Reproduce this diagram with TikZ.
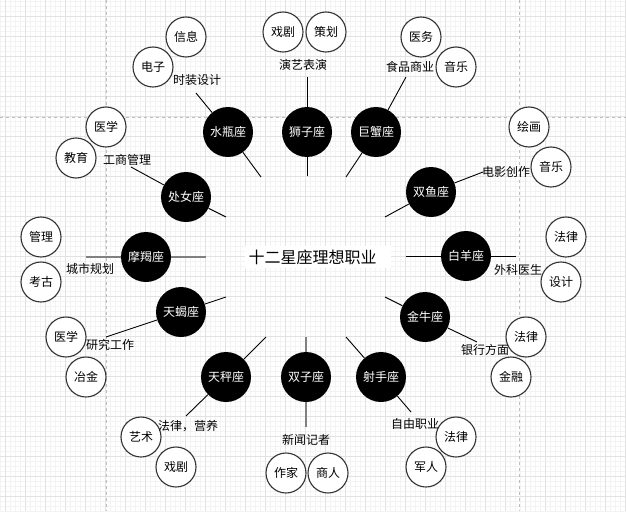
\documentclass[tikz,border=0pt]{standalone}
\usepackage{fontspec}
\setmainfont{Noto Sans CJK SC}
\usetikzlibrary{positioning}

\definecolor{gridmaj}{HTML}{E2E2E2}
\definecolor{gridmin}{HTML}{F3F3F3}
\definecolor{pagesep}{HTML}{BDBDBD}
\definecolor{rim}{HTML}{333333}

\begin{document}
\begin{tikzpicture}[x=1pt,y=-1pt,
  sign/.style={circle,fill=black,minimum size=50pt,inner sep=0pt,text=white,font=\fontsize{12}{14}\selectfont},
  job/.style={circle,draw=rim,fill=white,line width=1.1pt,minimum size=40pt,inner sep=0pt,font=\fontsize{12}{14}\selectfont},
  tag/.style={inner sep=1pt,font=\fontsize{12}{14}\selectfont},
  spoke/.style={black,line width=0.9pt},
  greyspoke/.style={gray,line width=1.8pt}]
  \useasboundingbox (0,0) rectangle (626,511);
  % background grid
  \foreach \k in {0,...,125}
    \draw[gridmin,line width=0.5pt] (5*\k,0) -- (5*\k,511);
  \foreach \k in {0,...,102}
    \draw[gridmin,line width=0.5pt] (0,1.5+5*\k) -- (626,1.5+5*\k);
  \foreach \k in {0,...,31}
    \draw[gridmaj,line width=0.7pt] (5+20*\k,0) -- (5+20*\k,511);
  \foreach \k in {0,...,24}
    \draw[gridmaj,line width=0.7pt] (0,16.5+20*\k) -- (626,16.5+20*\k);
  \draw[pagesep,dash pattern=on 3pt off 3pt] (106,0) -- (106,511);
  \draw[pagesep,dash pattern=on 3pt off 3pt] (519,0) -- (519,511);
  \draw[pagesep,dash pattern=on 3pt off 3pt] (0,117) -- (626,117);

  % title
  \fill[white] (245,246) rectangle (391,268);
  \node[inner sep=0pt,font=\fontsize{16}{18}\selectfont] (title) at (312.5,257) {十二星座理想职业};

  % the twelve signs
  \foreach \n/\t/\p in {aqu/水瓶座/{228,132},leo/狮子座/{307,132},crb/巨蟹座/{376,132},
      pis/双鱼座/{431,192},ari/白羊座/{466,256},tau/金牛座/{425,317},
      sgr/射手座/{381,377},gem/双子座/{306,377},lib/天秤座/{226,377},
      sco/天蝎座/{181,312},capr/摩羯座/{146,257},vir/处女座/{186,197}}{
    \node[sign] (\n) at (\p) {\t};
  }

  % spoke ends
  \foreach \n/\a/\b in {aqu/{261,177}/{196,93},leo/{307,176}/{307,77},crb/{346,177}/{406,77},
      pis/{385,217}/{483,172},ari/{406,256}/{516,256},tau/{385,297}/{477,342},
      sgr/{346,337}/{411,412},gem/{306,337}/{306,427},lib/{266,337}/{186,416},
      sco/{226,297}/{106,337},capr/{206,257}/{86,257},vir/{226,217}/{131,167}}{
    \coordinate (\n in) at (\a);
    \coordinate (\n out) at (\b);
  }
  \foreach \n in {aqu,leo,crb,pis,ari,tau,sgr,lib,sco,vir}
    \draw[spoke] (\n in) -- (\n) -- (\n out);
  \foreach \n in {gem,capr}
    \draw[greyspoke] (\n in) -- (\n) -- (\n out);

  % jobs
  \foreach \n/\t/\p in {aqu1/电子/{153,67},aqu2/信息/{186,37},
      leo1/戏剧/{283,32},leo2/策划/{326,32},
      crb1/医务/{421,37},crb2/音乐/{456,67},
      pis1/绘画/{529,127},pis2/音乐/{551,167},
      ari1/法律/{566,237},ari2/设计/{561,282},
      tau1/法律/{526,337},tau2/金融/{511,377},
      sgr1/法律/{456,437},sgr2/军人/{426,467},
      gem1/作家/{286,473},gem2/商人/{328,473},
      lib1/艺术/{141,437},lib2/戏剧/{176,467},
      sco1/医学/{66,337},sco2/冶金/{86,377},
      capr1/管理/{41,237},capr2/考古/{41,282},
      vir1/医学/{106,127},vir2/教育/{76,158}}{
    \node[job] (\n) at (\p) {\t};
  }

  % labels
  \foreach \n/\t/\p in {aqut/时装设计/{197,80},leot/演艺表演/{303,65},crbt/食品商业/{410,67},
      pist/电影创作/{506,172},arit/外科医生/{518,270},taut/银行方面/{485,350},
      sgrt/自由职业/{415,424},gemt/新闻记者/{306,440},libt/法律，营养/{188,426},
      scot/研究工作/{110,345},caprt/城市规划/{90,269},virt/工商管理/{127,160}}{
    \node[tag] (\n) at (\p) {\t};
  }
\end{tikzpicture}
\end{document}
